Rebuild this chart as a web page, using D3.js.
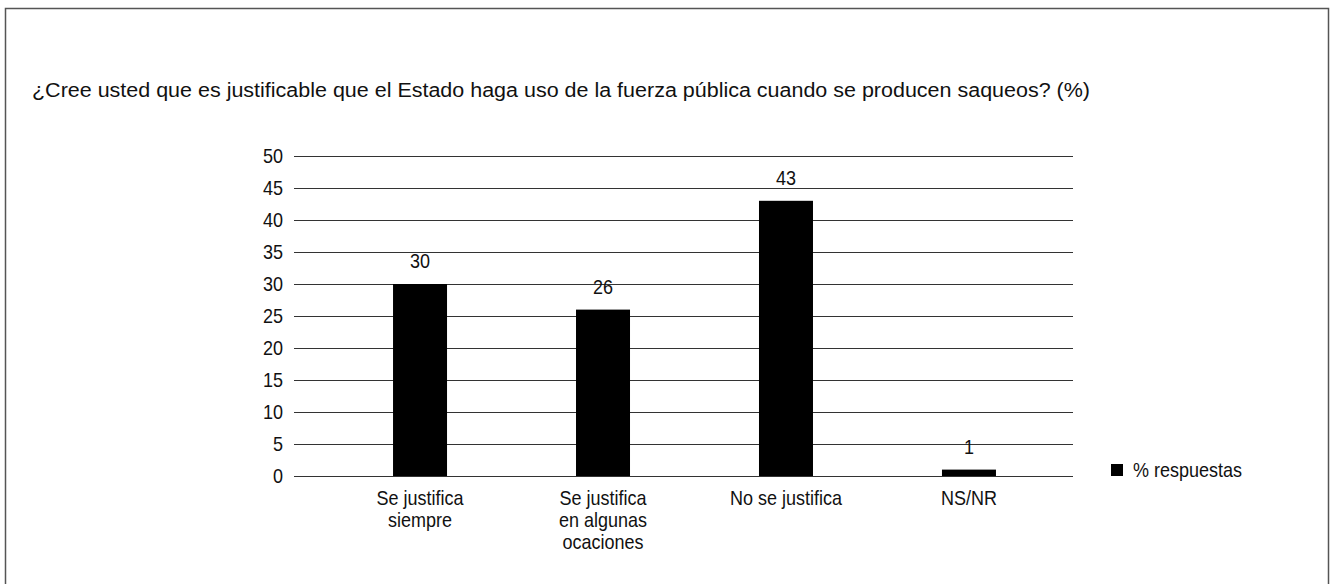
<!DOCTYPE html>
<html>
<head>
<meta charset="utf-8">
<script src="https://cdn.jsdelivr.net/npm/d3@7/dist/d3.min.js"></script>
<style>
  html, body { margin: 0; padding: 0; background: #fff; }
  svg { display: block; }
  text { font-family: "Liberation Sans", Arial, Helvetica, sans-serif; fill: #111; }
</style>
</head>
<body>
<svg id="chart" width="1333" height="584"></svg>
<script>
// Survey answers and their share of responses (%)
const categories = [
  ["Se justifica", "siempre"],
  ["Se justifica", "en algunas", "ocaciones"],
  ["No se justifica"],
  ["NS/NR"]
];
const values = [30, 26, 43, 1];
const yTicks = [0, 5, 10, 15, 20, 25, 30, 35, 40, 45, 50];
const seriesName = "% respuestas";
const title = "¿Cree usted que es justificable que el Estado haga uso de la fuerza pública cuando se producen saqueos? (%)";

const svg = d3.select("#chart");
// tall, narrow lettering: larger size squeezed horizontally
const FS = 20;
const SX = 0.9;
const place = (sel, px, py) => sel.attr("transform", `translate(${px},${py}) scale(${SX},1)`);

// outer frame
svg.append("rect")
  .attr("x", 5.5).attr("y", 8.5)
  .attr("width", 1323).attr("height", 600)
  .attr("fill", "none").attr("stroke", "#555").attr("stroke-width", 1.5);

svg.append("text")
  .attr("x", 32).attr("y", 97)
  .attr("font-size", FS)
  .attr("textLength", 1058)
  .attr("lengthAdjust", "spacingAndGlyphs")
  .text(title);

const gridLeft = 294, gridRight = 1073;
const y = d3.scaleLinear().domain([0, 50]).range([476, 156]);
const keys = categories.map((c, i) => i);
const x = d3.scaleBand().domain(keys).range([329, 1060]).paddingInner(0.705).paddingOuter(0.35);

// horizontal gridlines
svg.append("g")
  .selectAll("line")
  .data(yTicks)
  .join("line")
  .attr("x1", gridLeft).attr("x2", gridRight)
  .attr("y1", d => Math.round(y(d)) + 0.5)
  .attr("y2", d => Math.round(y(d)) + 0.5)
  .attr("stroke", "#333").attr("stroke-width", 1.2);

// y axis labels
svg.append("g")
  .selectAll("text")
  .data(yTicks)
  .join("text")
  .attr("text-anchor", "end")
  .attr("font-size", FS)
  .each(function (d) { place(d3.select(this), 283, y(d) + 7); })
  .text(d => d);

// bars
const barW = 54;
const cx = i => x(i) + x.bandwidth() / 2;
svg.append("g")
  .selectAll("rect")
  .data(values)
  .join("rect")
  .attr("x", (d, i) => cx(i) - barW / 2)
  .attr("y", d => y(d))
  .attr("width", barW)
  .attr("height", d => y(0) - y(d))
  .attr("fill", "#000");

// value labels
svg.append("g")
  .selectAll("text")
  .data(values)
  .join("text")
  .attr("text-anchor", "middle")
  .attr("font-size", FS)
  .each(function (d, i) { place(d3.select(this), cx(i), y(d) - 16); })
  .text(d => d);

// category labels
const catG = svg.append("g");
categories.forEach((lines, i) => {
  const t = catG.append("text")
    .attr("text-anchor", "middle")
    .attr("font-size", FS);
  place(t, cx(i), 505);
  lines.forEach((ln, j) => {
    t.append("tspan").attr("x", 0).attr("dy", j === 0 ? 0 : 22).text(ln);
  });
});

// legend
svg.append("rect")
  .attr("x", 1111).attr("y", 464).attr("width", 12).attr("height", 12)
  .attr("fill", "#000");
place(svg.append("text").attr("font-size", FS), 1133, 477).text(seriesName);
</script>
</body>
</html>
